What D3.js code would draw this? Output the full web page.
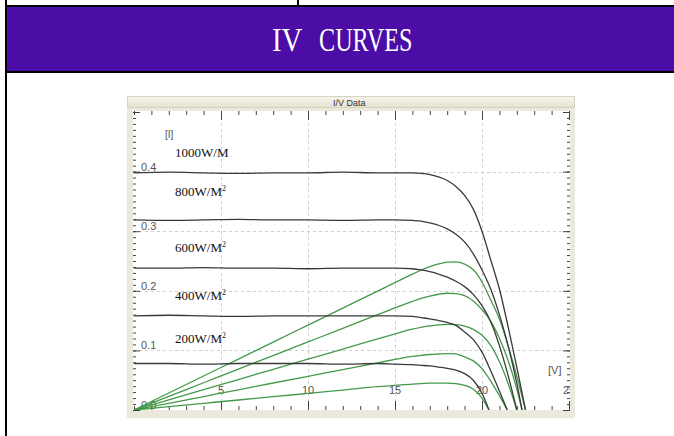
<!DOCTYPE html>
<html><head><meta charset="utf-8">
<script src="https://cdn.jsdelivr.net/npm/d3@7"></script>
<style>html,body{margin:0;padding:0;background:#fff;overflow:hidden}</style>
</head><body>
<svg id="c" width="674" height="436"></svg>
<script>
// ---------- data ----------
const title = "IV CURVES";
const windowTitle = "I/V Data";
const xTickValues = [5, 10, 15, 20, 25];
const xTickLabels = ["5", "10", "15", "20", "25"];
const yTickValues = [0, 0.1, 0.2, 0.3, 0.4];
const yTickLabels = ["0.0", "0.1", "0.2", "0.3", "0.4"];
const xUnit = "[V]";
const yUnit = "[I]";
const irradiance = ["1000W/M", "800W/M", "600W/M", "400W/M", "200W/M"];
const hasSuperscript = [false, true, true, true, true];

const v1000 = [0,2,4,6,8,10,12,14,15,16,16.5,17,17.5,18,18.5,19,19.5,20,20.5,21,21.5,22,22.5];
const i1000 = [0.398,0.399,0.398,0.397,0.398,0.398,0.399,0.398,0.398,0.398,0.397,0.395,0.391,0.385,0.375,0.360,0.337,0.300,0.252,0.203,0.140,0.072,0];
const p1000 = [0,0.0285,0.0570,0.0855,0.1140,0.1425,0.1710,0.1995,0.2137,0.2280,0.2345,0.2404,0.2450,0.2481,0.2484,0.2449,0.2353,0.2148,0.1849,0.1526,0.1078,0.0567,0];

const v800 = [0,2,4,6,8,10,12,14,15,16,16.5,17,17.5,18,18.5,19,19.5,20,20.5,21,21.5,22,22.3];
const i800 = [0.319,0.318,0.319,0.320,0.319,0.319,0.318,0.319,0.319,0.318,0.317,0.314,0.310,0.304,0.295,0.282,0.262,0.235,0.203,0.160,0.108,0.045,0];
const p800 = [0,0.0228,0.0457,0.0685,0.0914,0.1142,0.1370,0.1599,0.1713,0.1821,0.1873,0.1911,0.1942,0.1959,0.1954,0.1918,0.1829,0.1683,0.1490,0.1203,0.0831,0.0354,0];

const v600 = [0,2,4,6,8,10,12,14,15,16,16.5,17,17.5,18,18.5,19,19.5,20,20.5,21,21.5,22];
const i600 = [0.238,0.238,0.239,0.238,0.238,0.237,0.238,0.238,0.238,0.237,0.235,0.232,0.228,0.223,0.216,0.207,0.194,0.175,0.148,0.108,0.058,0];
const p600 = [0,0.0170,0.0341,0.0511,0.0682,0.0852,0.1022,0.1193,0.1278,0.1358,0.1388,0.1412,0.1428,0.1437,0.1431,0.1408,0.1354,0.1253,0.1086,0.0812,0.0446,0];

const v400 = [0,2,4,6,8,10,12,14,15,16,16.5,17,17.5,18,18.5,19,19.5,20,20.5,21,21.45];
const i400 = [0.158,0.159,0.158,0.157,0.158,0.158,0.158,0.158,0.158,0.157,0.155,0.153,0.150,0.147,0.142,0.131,0.118,0.097,0.066,0.032,0];
const p400 = [0,0.0113,0.0226,0.0339,0.0453,0.0566,0.0679,0.0792,0.0848,0.0899,0.0916,0.0931,0.0940,0.0947,0.0940,0.0891,0.0824,0.0695,0.0484,0.0241,0];

const v200 = [0,2,4,6,8,10,12,14,15,16,16.5,17,17.5,18,18.5,19,19.5,20,20.4];
const i200 = [0.078,0.078,0.077,0.078,0.078,0.078,0.077,0.078,0.077,0.076,0.075,0.074,0.072,0.070,0.067,0.061,0.050,0.028,0];
const p200 = [0,0.0056,0.0112,0.0168,0.0223,0.0279,0.0335,0.0391,0.0413,0.0435,0.0443,0.0450,0.0451,0.0451,0.0444,0.0415,0.0349,0.0200,0];

const voltages = [v1000, v800, v600, v400, v200];
const currents = [i1000, i800, i600, i400, i200];
const powers = [p1000, p800, p600, p400, p200];

// ---------- layout ----------
const svg = d3.select("#c");
const W = 674, H = 436;

// page frame
svg.append("rect").attr("x",0).attr("y",0).attr("width",W).attr("height",H).attr("fill","#fff");
svg.append("rect").attr("x",7).attr("y",7).attr("width",W-7).attr("height",64).attr("fill","#4b0da5");
svg.append("rect").attr("x",5).attr("y",5).attr("width",W-5).attr("height",2).attr("fill","#000");
svg.append("rect").attr("x",5).attr("y",71).attr("width",W-5).attr("height",2).attr("fill","#000");
svg.append("rect").attr("x",5).attr("y",0).attr("width",2).attr("height",H).attr("fill","#000");
svg.append("rect").attr("x",297).attr("y",0).attr("width",2).attr("height",6).attr("fill","#000");

// title, half-width character cells (each glyph ~15.7px)
const cell = 15.7, tx0 = 272;
const titleG = svg.append("text").attr("y",51)
  .attr("font-family","Liberation Serif, serif").attr("font-size",34).attr("fill","#fff");
let pos = 0;
title.split(" ").forEach(word=>{
  titleG.append("tspan").attr("x",tx0 + pos*cell).attr("textLength",word.length*cell-1)
    .attr("lengthAdjust","spacingAndGlyphs").text(word);
  pos += word.length + 1;
});

// window frame
const defs = svg.append("defs");
const grad = defs.append("linearGradient").attr("id","tb").attr("x1",0).attr("y1",0).attr("x2",0).attr("y2",1);
grad.append("stop").attr("offset","0%").attr("stop-color","#f7f5ec");
grad.append("stop").attr("offset","100%").attr("stop-color","#e4e1d0");
svg.append("rect").attr("x",127).attr("y",96).attr("width",448).attr("height",322).attr("fill","#ebe9dc");
svg.append("rect").attr("x",127.5).attr("y",96.5).attr("width",447).attr("height",11).attr("fill","url(#tb)").attr("stroke","#d6d3c2");
svg.append("text").attr("x",333).attr("y",105.5).attr("font-family","Liberation Sans, Arial, sans-serif")
  .attr("font-size",9).attr("fill","#333").text(windowTitle);

const pl = 133, pr = 570, pt = 111, pb = 410;
svg.append("rect").attr("x",pl).attr("y",pt).attr("width",pr-pl).attr("height",pb-pt).attr("fill","#fff");

const x = d3.scaleLinear().domain([0,25]).range([134,569]);
const y = d3.scaleLinear().domain([0,0.5]).range([410,112]);

defs.append("clipPath").attr("id","plotclip").append("rect")
  .attr("x",pl).attr("y",pt).attr("width",pr-pl).attr("height",pb-pt);

// grid
const grid = svg.append("g").attr("stroke","#cfcfcf").attr("stroke-dasharray","3,3").attr("stroke-width",1);
xTickValues.filter(v=>v<25).forEach(v=>{
  grid.append("line").attr("x1",Math.round(x(v))+0.5).attr("x2",Math.round(x(v))+0.5).attr("y1",pt).attr("y2",pb);
});
yTickValues.filter(v=>v>0).forEach(v=>{
  grid.append("line").attr("y1",Math.round(y(v))+0.5).attr("y2",Math.round(y(v))+0.5).attr("x1",pl).attr("x2",pr);
});

// axes ticks (library axes, no labels)
const minorX = d3.range(0,26,1);
const minorY = d3.range(0,51,1).map(d=>d/100);
const majorY = yTickValues.concat([0.5]);
function styleAxis(g){ g.select(".domain").remove(); g.selectAll("line").attr("stroke","#444"); g.selectAll("text").remove(); }
svg.append("g").attr("transform",`translate(0,${pt})`).call(d3.axisBottom(x).tickValues(minorX).tickSize(4).tickFormat("")).call(styleAxis);
svg.append("g").attr("transform",`translate(0,${pt})`).call(d3.axisBottom(x).tickValues(xTickValues).tickSize(9).tickFormat("")).call(styleAxis);
svg.append("g").attr("transform",`translate(0,${pb})`).call(d3.axisTop(x).tickValues(minorX).tickSize(4).tickFormat("")).call(styleAxis);
svg.append("g").attr("transform",`translate(0,${pb})`).call(d3.axisTop(x).tickValues(xTickValues).tickSize(9).tickFormat("")).call(styleAxis);
svg.append("g").attr("transform",`translate(${pl},0)`).call(d3.axisRight(y).tickValues(minorY).tickSize(3).tickFormat("")).call(styleAxis);
svg.append("g").attr("transform",`translate(${pl},0)`).call(d3.axisRight(y).tickValues(majorY).tickSize(7).tickFormat("")).call(styleAxis);
svg.append("g").attr("transform",`translate(${pr},0)`).call(d3.axisLeft(y).tickValues(minorY).tickSize(3).tickFormat("")).call(styleAxis);
svg.append("g").attr("transform",`translate(${pr},0)`).call(d3.axisLeft(y).tickValues(majorY).tickSize(7).tickFormat("")).call(styleAxis);

// tick labels inside plot
const lab = svg.append("g").attr("clip-path","url(#plotclip)")
  .attr("font-family","Liberation Sans, Arial, sans-serif").attr("font-size",11).attr("fill","#555");
yTickValues.forEach((v,i)=>{
  lab.append("text").attr("x",141).attr("y",y(v)-1).text(yTickLabels[i]);
});
xTickValues.forEach((v,i)=>{
  lab.append("text").attr("x",x(v)).attr("y",394).attr("text-anchor","middle").text(xTickLabels[i]);
});
lab.append("text").attr("x",548).attr("y",374).text(xUnit);
lab.append("text").attr("x",165).attr("y",138).attr("font-size",10).text(yUnit);

// curves
const line = d3.line().x(d=>x(d[0])).y(d=>y(d[1])).curve(d3.curveMonotoneX);
const curves = svg.append("g").attr("clip-path","url(#plotclip)").attr("fill","none");
voltages.forEach((vs,k)=>{
  curves.append("path").datum(vs.map((v,j)=>[v,powers[k][j]]))
    .attr("d",line).attr("stroke","#43994a").attr("stroke-width",1.3);
});
voltages.forEach((vs,k)=>{
  curves.append("path").datum(vs.map((v,j)=>[v,currents[k][j]]))
    .attr("d",line).attr("stroke","#3a3a3a").attr("stroke-width",1.3);
});

// irradiance labels
const labelY = [157, 196, 252, 300, 343];
irradiance.forEach((t,k)=>{
  const tx = svg.append("text").attr("x",175).attr("y",labelY[k])
    .attr("font-family","Liberation Serif, Times New Roman, serif").attr("font-size",13).attr("fill","#111").text(t);
  if(hasSuperscript[k]) tx.append("tspan").attr("dy",-5).attr("font-size",8).text("2");
});
</script>
</body></html>
